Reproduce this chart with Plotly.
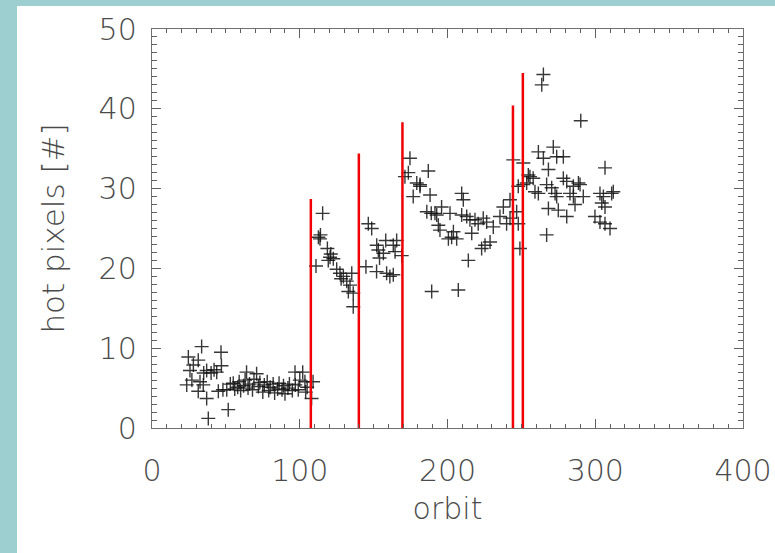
import plotly.graph_objects as go

# ---- data ----
orbit = [
    23.5, 24.6, 25.7, 27, 28, 31.3, 31.3, 32.5, 33.6, 34.7, 35, 37, 37, 38.1, 40, 42, 43.8, 44.9, 46.7, 47,
    48, 50.6, 51.6, 53, 55, 56, 58, 59, 60, 62, 63, 64, 65, 66, 68, 69, 70.8, 72, 73, 75,
    76, 78, 79, 80, 82, 83, 85, 86, 88, 89, 90, 92, 93, 95, 96.8, 97, 99, 100, 102, 103.5,
    104, 105, 108, 109,
    111, 112.6, 113.7, 114, 115.5, 118.7, 119.3, 120.5, 122.7, 121, 125, 127.2, 128, 129.5, 131.8, 132.9,
    134, 135.2, 136.2, 136.2,
    144.8, 146.4, 148.7, 152, 152.1, 153.2, 154, 156.6, 158.2, 158.8, 161, 163.3, 163.3, 164.5, 165.6, 169,
    171.2, 173.5, 174.6, 176.8, 179.2, 181.4, 181.4, 187, 188.2, 186, 189, 191.5, 192.7, 193.8, 194.9, 196,
    189.3, 201.7, 200.6, 202.8, 204, 206.2, 207.3, 209.6, 210.7, 209.6, 213, 215.2, 218.6, 220.8, 224.2, 226.5,
    216.4, 214.1, 223.1, 225.4, 228.8, 231, 235.5, 237.8, 240, 242.3, 242.3, 244.5,
    246.8, 247.9, 247.9, 249, 251.3, 251.3, 253.6, 254.7, 255.8, 258, 259.2, 261.5, 261.5, 263.8, 264.9, 264.9,
    267.1, 267.1, 268.3, 268.3, 270.5, 271.6, 272.8, 273.9, 273.9, 275, 278.4, 278.4, 280.7, 280.7, 282.9, 285.2,
    285.2, 286.3, 288.6, 289.7, 290.2, 291.9, 299.8, 303.2, 303.2, 304.4, 305.5, 306.6, 306.6, 306.6, 310, 311.1,
    312.2,
]
hot_pixels = [
    5.4, 8.9, 7.2, 6.0, 7.9, 8.5, 4.6, 5.8, 10.2, 5.4, 6.9, 7.2, 3.7, 1.2, 6.9, 7.3, 7.0, 4.6, 9.5, 7.8,
    4.8, 4.8, 2.3, 5.5, 5.6, 4.9, 5.1, 5.8, 4.7, 5.3, 6.0, 7.0, 5.0, 5.5, 4.8, 6.1, 6.8, 5.2, 5.7, 4.5,
    5.4, 5.8, 4.7, 5.1, 5.5, 4.4, 4.9, 5.6, 4.8, 5.3, 4.3, 5.0, 5.5, 4.7, 7.0, 5.4, 4.8, 6.0, 7.0, 5.8,
    4.5, 5.1, 3.7, 5.8,
    20.3, 23.9, 23.7, 24.2, 26.9, 22.5, 21.0, 21.4, 21.2, 21.8, 19.9, 19.4, 18.7, 19.0, 18.4, 17.1,
    17.9, 19.4, 16.9, 15.2,
    20.2, 25.6, 25.0, 19.6, 22.9, 22.3, 21.3, 21.9, 23.5, 19.4, 19.0, 22.9, 19.2, 22.1, 23.5, 21.6,
    31.5, 32.0, 33.8, 29.0, 30.7, 30.5, 30.3, 32.2, 29.2, 27.1, 26.9, 26.9, 26.7, 25.4, 24.8, 27.7,
    17.1, 26.9, 23.7, 23.9, 24.6, 23.7, 17.3, 29.4, 28.6, 26.7, 26.5, 26.1, 26.1, 25.6, 26.3, 25.8,
    24.4, 21.0, 22.5, 22.9, 23.3, 25.2, 26.5, 27.7, 25.6, 26.3, 28.6, 33.6,
    27.1, 25.6, 30.3, 22.5, 33.2, 30.5, 30.7, 31.7, 31.5, 31.3, 29.6, 29.4, 34.6, 43.0, 44.3, 33.8,
    30.5, 24.2, 32.4, 27.5, 30.1, 35.2, 29.4, 34.0, 29.0, 27.3, 34.0, 31.3, 30.9, 26.5, 29.4, 30.3,
    29.0, 28.0, 30.7, 30.5, 38.5, 29.0, 26.5, 29.4, 25.8, 28.2, 29.0, 32.6, 27.7, 25.6, 25.0, 29.4,
    29.6,
]
event_orbits = [107.5, 140, 169.5, 244.3, 251]
event_tops = [28.7, 34.4, 38.3, 40.4, 44.5]

x_ticks = [0, 100, 200, 300, 400]
y_ticks = [0, 10, 20, 30, 40, 50]

# ---- figure ----
fig = go.Figure()

fig.add_trace(go.Scatter(
    x=orbit, y=hot_pixels, mode="markers",
    marker=dict(symbol="cross-thin", size=10, line=dict(color="rgba(20,20,20,0.85)", width=1.4)),
    showlegend=False, hoverinfo="x+y",
))

lx, ly = [], []
for xo, top in zip(event_orbits, event_tops):
    lx += [xo, xo, None]
    ly += [0, top, None]
fig.add_trace(go.Scatter(
    x=lx, y=ly, mode="lines", line=dict(color="#f00000", width=2.5),
    showlegend=False, hoverinfo="skip",
))

teal = "#9dcfd1"
fam = "DejaVu Sans, Liberation Sans, sans-serif"
txt = "#4a4a4a"

L, R, T, B = 152, 32, 29, 125
PW, PH = 775 - L - R, 553 - T - B

fig.update_layout(
    width=775, height=553,
    margin=dict(l=L, r=R, t=T, b=B, autoexpand=False),
    paper_bgcolor=teal, plot_bgcolor="rgba(0,0,0,0)",
    font=dict(family=fam, color=txt, weight=200),
    shapes=[dict(type="rect", xref="paper", yref="paper",
                 x0=(17 - L) / PW, x1=(800 - L) / PW,
                 y0=(553 - B - 600) / PH, y1=(553 - B - 6) / PH,
                 fillcolor="white", line=dict(width=0), layer="below")],
)

axis_common = dict(
    showgrid=False, zeroline=False, showline=True, linecolor="#707070", linewidth=1.4,
    mirror="allticks", ticks="inside", tickcolor="#606060", tickwidth=1.2, ticklen=9,
    tickfont=dict(size=30, color=txt, family=fam, weight=200), automargin=False,
)

fig.update_xaxes(
    range=[0, 400], tickvals=x_ticks, ticktext=[str(v) for v in x_ticks],
    minor=dict(dtick=10, ticks="inside", ticklen=4, tickcolor="#606060", tickwidth=1),
    ticklabelstandoff=16,
    title=dict(text="orbit", font=dict(size=30, color=txt, family=fam, weight=200), standoff=10),
    **axis_common,
)
fig.update_yaxes(
    range=[0, 50], tickvals=y_ticks, ticktext=[str(v) for v in y_ticks],
    minor=dict(dtick=1, ticks="inside", ticklen=5, tickcolor="#606060", tickwidth=1),
    ticklabelstandoff=8,
    title=dict(text="hot pixels [#]", font=dict(size=31, color=txt, family=fam, weight=200), standoff=24),
    **axis_common,
)

fig.write_html("out.html")
